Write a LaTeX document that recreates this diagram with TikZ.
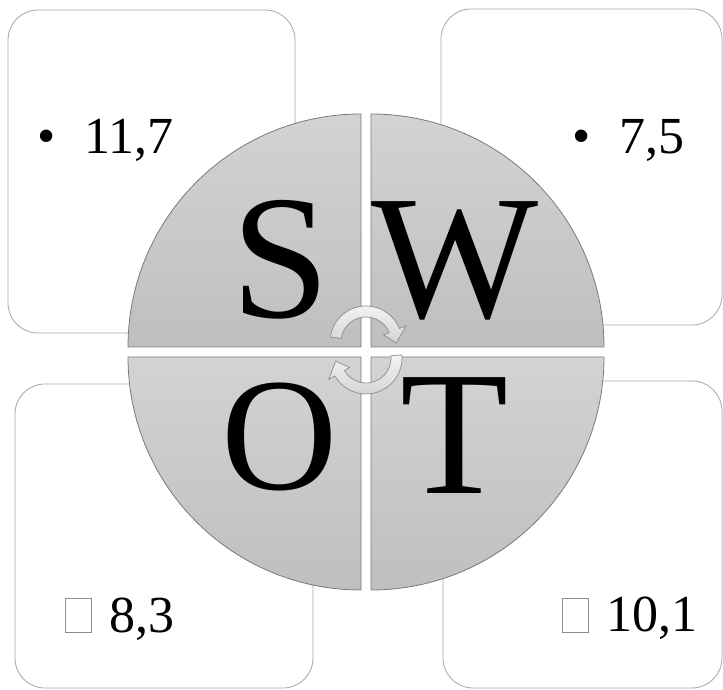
\documentclass[tikz,border=0pt]{standalone}
\usepackage{fontspec}
\setmainfont{Liberation Serif}
\definecolor{boxgray}{HTML}{A6A6A6}
\definecolor{quadline}{HTML}{7A7A7A}
\definecolor{qtop}{HTML}{D3D3D3}
\definecolor{qbot}{HTML}{BFBFBF}
\definecolor{tofugray}{HTML}{8C8C8C}
\definecolor{arrline}{HTML}{8C8C8C}
\definecolor{atop}{HTML}{F4F4F4}
\definecolor{abot}{HTML}{D4D4D4}
\tikzset{
  panel/.style={draw=boxgray, line width=0.8pt, rounded corners=30pt, fill=white, inner sep=0pt, outer sep=0pt},
  quad/.style={draw=quadline, line width=0.8pt, top color=qtop, bottom color=qbot},
  letter/.style={anchor=base, inner sep=0pt, font=\fontsize{177}{177}\selectfont},
  letterO/.style={anchor=base, inner sep=0pt, font=\fontsize{161}{161}\selectfont},
  val/.style={anchor=base west, inner sep=0pt, font=\fontsize{52}{52}\selectfont},
  bul/.style={anchor=base, inner sep=0pt, font=\fontsize{52}{52}\selectfont},
  tofu/.style={draw=tofugray, line width=0.7pt, inner sep=0pt, minimum width=26pt, minimum height=34pt},
  cyc/.style={draw=arrline, line width=0.7pt, top color=atop, bottom color=abot},
}
\begin{document}
\begin{tikzpicture}[x=1pt,y=1pt]
\useasboundingbox (0,0) rectangle (723,690);
% background panels
\node[panel, minimum width=287pt, minimum height=323pt] (boxS) at (151.5,518.5) {};
\node[panel, minimum width=281pt, minimum height=316pt] (boxW) at (581.5,523) {};
\node[panel, minimum width=298pt, minimum height=304pt] (boxO) at (164,154) {};
\node[panel, minimum width=279pt, minimum height=307pt] (boxT) at (582.5,155.5) {};
% panel texts
\node[bul] (bS) at (46.5,536) {•};
\node[val] (tS) at (84,536) {11,7};
\node[bul] (bW) at (581.5,536) {•};
\node[val] (tW) at (619,536) {7,5};
\node[tofu] (qO) at (78.5,74.5) {};
\node[val] (tO) at (109,57) {8,3};
\node[tofu] (qT) at (575,74.5) {};
\node[val] (tT) at (606,58) {10,1};
% quadrants
\path[quad] (361,343) -- (128,343) arc[start angle=180,end angle=90,radius=233pt] -- cycle;
\path[quad] (371,343) -- (371,576) arc[start angle=90,end angle=0,radius=233pt] -- cycle;
\path[quad] (361,333) -- (361,100) arc[start angle=270,end angle=180,radius=233pt] -- cycle;
\path[quad] (371,333) -- (604,333) arc[start angle=0,end angle=-90,radius=233pt] -- cycle;
% letters
\node[letter] (S) at (280.5,372.5) {S};
\node[letter] (W) at (455,372) {W};
\node[letterO] (O) at (279.5,200.6) {O};
\node[letter] (T) at (455,196.7) {T};
% cycle arrows
\begin{scope}[shift={(366,348)}]
\path[cyc] (172:36pt) arc[start angle=172,end angle=22,radius=36pt] -- (22:43pt) -- (-2:30.5pt) -- (22:19pt) -- (22:25pt) arc[start angle=22,end angle=172,radius=25pt] -- cycle;
\end{scope}
\begin{scope}[shift={(366,332)}]
\path[cyc] (5:36pt) arc[start angle=5,end angle=-150,radius=36pt] -- (-150:43pt) -- (-174:30.5pt) -- (-150:19pt) -- (-150:25pt) arc[start angle=-150,end angle=5,radius=25pt] -- cycle;
\end{scope}
\end{tikzpicture}
\end{document}
